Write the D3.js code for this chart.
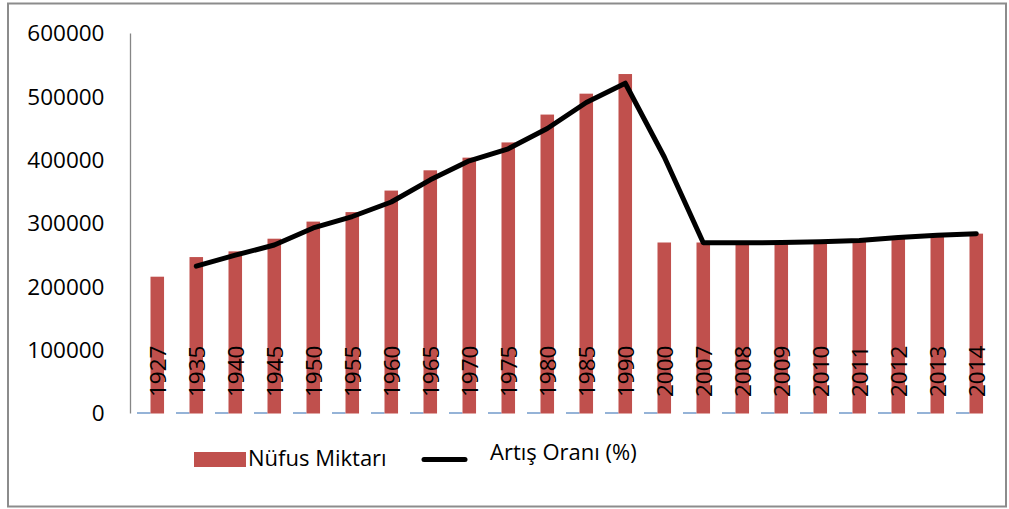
<!DOCTYPE html>
<html>
<head>
<meta charset="utf-8">
<script src="https://cdn.jsdelivr.net/npm/d3@7"></script>
<style>
  body { margin: 0; background: #fff; }
  #container { width: 1009px; height: 509px; }
  text { font-family: "Open Sans", "Liberation Sans", sans-serif; fill: #000; }
</style>
</head>
<body>
<div id="container"></div>
<script>
// categories (years)
var years = ["1927","1935","1940","1945","1950","1955","1960","1965","1970","1975","1980","1985",
             "1990","2000","2007","2008","2009","2010","2011","2012","2013","2014"];

// population bars
var nufus = [216000,247000,256000,276000,303000,318000,352000,384000,404000,428000,472000,505000,
             536000,270000,270000,269000,269500,270500,273000,278500,281000,284000];

// second bar series, too small to see (sits on the baseline)
var kucukSeri = [0,0,0,0,0,0,0,0,0,0,0,0,0,0,0,0,0,0,0,0,0,0];

// black line, no value for 1927
var artis = [null,232600,250000,266000,293000,311000,334000,369000,399000,418000,450000,491000,
             521500,405000,269500,269500,270000,271000,273000,278000,281500,284000];

var yTicks = [0,100000,200000,300000,400000,500000,600000];

var legendItems = ["Nüfus Miktarı", "Artış Oranı (%)"];

class Chart{

    constructor(opts)
    {
        this.element = opts.element;
        this.width = 1009;
        this.height = 509;

        this.svg = d3.select(this.element)
                    .append("svg")
                    .attr("width", this.width)
                    .attr("height", this.height);

        this.makeScales();
        this.drawFrame();
        this.drawAxis();
        this.drawBars();
        this.drawLine();
        this.drawYearLabels();
        this.drawLegend();
    }

    makeScales(){
        //category band for each year
        this.x = d3.scaleBand()
                    .domain(years)
                    .range([131, 989])
                    .padding(0);

        //two bars inside each band
        this.xs = d3.scaleBand()
                    .domain(["kucuk","nufus"])
                    .range([0, this.x.bandwidth()])
                    .paddingInner(0)
                    .paddingOuter(0.44);

        this.y = d3.scaleLinear()
                    .domain([0, 600000])
                    .range([413.5, 33.5]);
    }

    drawFrame(){
        //grey border round the whole chart
        this.svg.append("rect")
            .attr("x", 8)
            .attr("y", 3.5)
            .attr("width", 998)
            .attr("height", 503)
            .attr("fill", "none")
            .style("stroke", "#8c8c8c")
            .style("stroke-width", 2);
    }

    drawAxis(){
        var y = this.y;

        //vertical axis with labels only, no tick marks
        var axis = d3.axisLeft(y)
                    .tickValues(yTicks)
                    .tickSize(0)
                    .tickPadding(26)
                    .tickFormat(d3.format("d"));

        var g = this.svg.append("g")
                    .attr("transform", "translate(130.5,0)")
                    .call(axis);

        g.select(".domain").remove();
        g.selectAll("text")
            .style("font-size", "22.5px")
            .style("font-family", "'Open Sans', sans-serif")
            .attr("fill", "#000");

        this.svg.append("line")
            .attr("x1", 130.5)
            .attr("x2", 130.5)
            .attr("y1", y(600000))
            .attr("y2", y(0))
            .style("stroke", "#868686")
            .style("stroke-width", 1.3);
    }

    drawYearLabels(){
        //rotated year labels sitting on top of the bars
        var x = this.x;
        this.svg.append("g")
            .selectAll("text")
            .data(years)
            .join("text")
            .attr("transform", d => "translate(" + (x(d) + x.bandwidth() / 2 + 8) + ",397) rotate(-90)")
            .attr("dy", "0.35em")
            .style("font-size", "22.5px")
            .text(d => d);
    }

    drawBars(){
        var x = this.x, xs = this.xs, y = this.y;

        //baseline series drawn as thin blue strokes
        this.svg.append("g")
            .selectAll("line")
            .data(kucukSeri)
            .join("line")
            .attr("x1", (d, i) => x(years[i]) + xs("kucuk"))
            .attr("x2", (d, i) => x(years[i]) + xs("kucuk") + xs.bandwidth())
            .attr("y1", d => y(d) - 0.5)
            .attr("y2", d => y(d) - 0.5)
            .style("stroke", "#4f81bd")
            .style("stroke-width", 1.2);

        this.svg.append("g")
            .selectAll("rect")
            .data(nufus)
            .join("rect")
            .attr("x", (d, i) => x(years[i]) + xs("nufus"))
            .attr("y", d => y(d))
            .attr("width", xs.bandwidth())
            .attr("height", d => y(0) - y(d))
            .attr("fill", "#c0504d");
    }

    drawLine(){
        var x = this.x, xs = this.xs, y = this.y;

        var line = d3.line()
                    .defined(d => d.v != null)
                    .x(d => x(d.year) + xs("nufus") + xs.bandwidth() / 2)
                    .y(d => y(d.v));

        this.svg.append("path")
            .datum(years.map((yr, i) => ({year: yr, v: artis[i]})))
            .attr("d", line)
            .attr("fill", "none")
            .style("stroke", "#000")
            .style("stroke-width", 5)
            .style("stroke-linejoin", "round")
            .style("stroke-linecap", "round");
    }

    drawLegend(){
        var g = this.svg.append("g");

        g.append("rect")
            .attr("x", 194)
            .attr("y", 452)
            .attr("width", 52)
            .attr("height", 15)
            .attr("fill", "#c0504d");

        g.append("text")
            .attr("x", 248)
            .attr("y", 466)
            .style("font-size", "22px")
            .text(legendItems[0]);

        g.append("line")
            .attr("x1", 424)
            .attr("x2", 465)
            .attr("y1", 459.5)
            .attr("y2", 459.5)
            .style("stroke", "#000")
            .style("stroke-width", 5)
            .style("stroke-linecap", "round");

        g.append("text")
            .attr("x", 490)
            .attr("y", 460)
            .style("font-size", "22px")
            .text(legendItems[1]);
    }
}

var chart = new Chart({element: document.querySelector("#container")});
</script>
</body>
</html>
